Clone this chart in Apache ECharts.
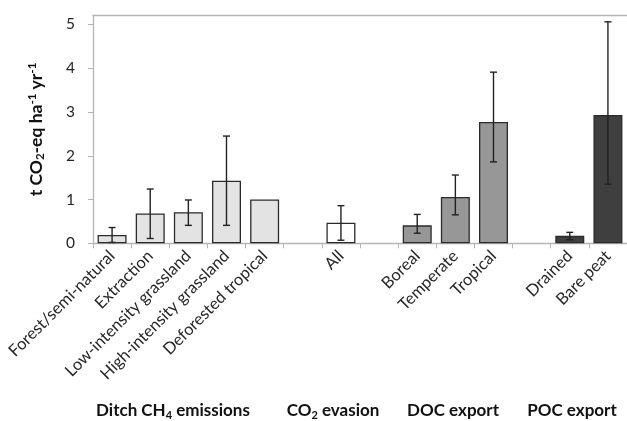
<!DOCTYPE html>
<html>
<head>
<meta charset="utf-8">
<script src="https://cdn.jsdelivr.net/npm/echarts@6/dist/echarts.min.js"></script>
<style>html,body{margin:0;padding:0;background:#fff}#c{width:627px;height:421px}</style>
</head>
<body>
<div id="c"></div>
<script>
var categories = ['Forest/semi-natural','Extraction','Low-intensity grassland','High-intensity grassland','Deforested tropical','','All','','Boreal','Temperate','Tropical','','Drained','Bare peat'];
var groupOf    = ['ditch','ditch','ditch','ditch','ditch',null,'co2',null,'doc','doc','doc',null,'poc','poc'];
var values     = [0.19, 0.68, 0.71, 1.43, 1.00, null, 0.47, null, 0.41, 1.06, 2.77, null, 0.17, 2.93];
var errLow     = [0.02, 0.11, 0.41, 0.41, null, null, 0.07, null, 0.23, 0.65, 1.86, null, 0.08, 1.35];
var errHigh    = [0.36, 1.24, 0.99, 2.45, null, null, 0.86, null, 0.66, 1.56, 3.91, null, 0.25, 5.06];
var yTicks     = [0, 1, 2, 3, 4, 5];
var groupLabels = ['Ditch CH{sub|4} emissions', 'CO{sub|2} evasion', 'DOC export', 'POC export'];

var FONT = 'Lato';
var fills = {ditch: '#e3e3e3', co2: '#ffffff', doc: '#979797', poc: '#3f3f3f'};

var barData = values.map(function (v, i) {
  if (v === null) return null;
  return {value: v, itemStyle: {color: fills[groupOf[i]], borderColor: '#2b2b2b', borderWidth: 1.3}};
});
var errData = [];
values.forEach(function (v, i) {
  if (errLow[i] !== null && errHigh[i] !== null) errData.push([i, errLow[i], errHigh[i]]);
});

var chart = echarts.init(document.getElementById('c'));
var groupX = [173, 333, 453, 572];
chart.setOption({
  animation: false,
  textStyle: {fontFamily: FONT},
  grid: {left: 93, right: 0, top: 15.7, bottom: 177.7, containLabel: false},
  xAxis: [{
    type: 'category',
    data: categories,
    axisLine: {lineStyle: {color: '#b4b4b4', width: 1.3}},
    axisTick: {show: true, length: 5, lineStyle: {color: '#b4b4b4'}},
    axisLabel: {interval: 0, rotate: 45, margin: 10, fontSize: 16.5, color: '#262626', fontFamily: FONT}
  }, {
    type: 'category',
    position: 'top',
    data: categories,
    axisLine: {lineStyle: {color: '#b4b4b4', width: 1.3}},
    axisTick: {show: false},
    axisLabel: {show: false}
  }],
  yAxis: {
    type: 'value',
    min: 0, max: 5.2,
    interval: 1,
    splitLine: {show: false},
    axisLine: {show: true, lineStyle: {color: '#b4b4b4', width: 1.3}},
    axisTick: {show: true, length: 5, customValues: yTicks, lineStyle: {color: '#b4b4b4'}},
    axisLabel: {customValues: yTicks, margin: 18, fontSize: 15.5, color: '#262626', fontFamily: FONT},
    name: 't CO{sub|2}-eq ha{sup|-1} yr{sup|-1}',
    nameLocation: 'middle',
    nameRotate: 90,
    nameGap: 47,
    nameTextStyle: {
      fontSize: 17.5, fontWeight: 'bold', color: '#111', fontFamily: FONT,
      rich: {
        sub: {fontSize: 11.5, fontWeight: 'bold', color: '#111', padding: [8, 0, 0, 0], fontFamily: FONT},
        sup: {fontSize: 11.5, fontWeight: 'bold', color: '#111', padding: [0, 0, 8, 0], fontFamily: FONT}
      }
    }
  },
  series: [{
    type: 'bar',
    data: barData,
    barWidth: '76%',
    xAxisIndex: 0
  }, {
    type: 'custom',
    xAxisIndex: 0,
    data: errData,
    z: 10,
    renderItem: function (params, api) {
      var i = api.value(0);
      var lo = api.coord([i, api.value(1)]);
      var hi = api.coord([i, api.value(2)]);
      var w = 3.5;
      var st = {stroke: '#222', lineWidth: 1.4};
      return {type: 'group', children: [
        {type: 'line', shape: {x1: lo[0], y1: lo[1], x2: hi[0], y2: hi[1]}, style: st},
        {type: 'line', shape: {x1: lo[0] - w, y1: lo[1], x2: lo[0] + w, y2: lo[1]}, style: st},
        {type: 'line', shape: {x1: hi[0] - w, y1: hi[1], x2: hi[0] + w, y2: hi[1]}, style: st}
      ]};
    }
  }],
  graphic: groupLabels.map(function (t, k) {
    return {
      type: 'text', x: groupX[k], y: 411,
      style: {
        text: t, align: 'center', verticalAlign: 'middle',
        font: 'bold 17px ' + FONT, fill: '#111',
        rich: {sub: {fontSize: 11, fontWeight: 'bold', fill: '#111', padding: [8, 0, 0, 0], fontFamily: FONT}}
      }
    };
  })
});
</script>
</body>
</html>
